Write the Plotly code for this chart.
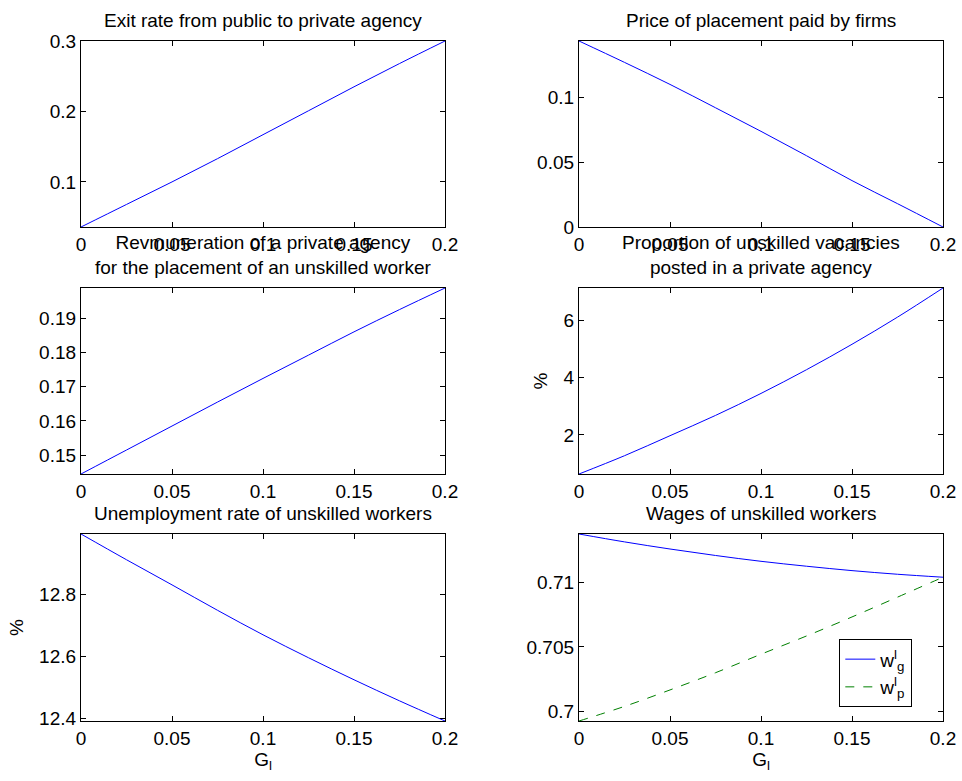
import plotly.graph_objects as go

# ---- data ----
g_l = [0, 0.025, 0.05, 0.075, 0.1, 0.125, 0.15, 0.175, 0.2]

exit_rate = [0.036, 0.068, 0.100, 0.133, 0.167, 0.201, 0.235, 0.268, 0.300]
price_placement = [0.1435, 0.127, 0.110, 0.092, 0.0738, 0.055, 0.0358, 0.018, 0.0]
remuneration = [0.1445, 0.1515, 0.1585, 0.1655, 0.1724, 0.1792, 0.1860, 0.1925, 0.1988]
prop_vacancies = [0.63, 1.27, 1.97, 2.68, 3.45, 4.28, 5.17, 6.12, 7.14]
unemployment = [12.994, 12.911, 12.830, 12.748, 12.669, 12.595, 12.524, 12.456, 12.391]
wage_g = [0.71373, 0.71312, 0.71257, 0.71207, 0.71162, 0.71124, 0.71090, 0.71062, 0.71039]
wage_p = [0.69928, 0.70041, 0.70168, 0.70301, 0.70444, 0.70585, 0.70732, 0.70885, 0.71039]

x_ticks = [0, 0.05, 0.1, 0.15, 0.2]
x_ticktext = ["0", "0.05", "0.1", "0.15", "0.2"]

titles = [
    "Exit rate from public to private agency",
    "Price of placement paid by firms",
    "Revmuneration of a private agency<br>for the placement of an unskilled worker",
    "Proportion of unskilled vacancies<br>posted in a private agency",
    "Unemployment rate of unskilled workers",
    "Wages of unskilled workers",
]
y_tickvals = [
    [0.1, 0.2, 0.3],
    [0, 0.05, 0.1],
    [0.15, 0.16, 0.17, 0.18, 0.19],
    [2, 4, 6],
    [12.4, 12.6, 12.8],
    [0.7, 0.705, 0.71],
]
y_ticktext = [
    ["0.1", "0.2", "0.3"],
    ["0", "0.05", "0.1"],
    ["0.15", "0.16", "0.17", "0.18", "0.19"],
    ["2", "4", "6"],
    ["12.4", "12.6", "12.8"],
    ["0.7", "0.705", "0.71"],
]
y_titles = ["", "", "", "%", "%", ""]
x_titles = ["", "", "", "", "G<sub>l</sub>", "G<sub>l</sub>"]

# ---- layout geometry (page body margin removed below) ----
W, H = 962, 781


def px(v):
    return v / W


def py(v):
    return 1 - v / H


col_x = [(px(81), px(445)), (px(579), px(943))]
row_y = [(py(227), py(41)), (py(474), py(288)), (py(721), py(534))]

FONT = "Liberation Sans, Arial, Helvetica, sans-serif"
FS = 19
BLUE = "rgb(0,0,255)"
GREEN = "rgb(0,128,0)"

fig = go.Figure()

series = [
    [(exit_rate, None)],
    [(price_placement, None)],
    [(remuneration, None)],
    [(prop_vacancies, None)],
    [(unemployment, None)],
    [(wage_g, "w<sup>l</sup><sub>g</sub>"), (wage_p, "w<sup>l</sup><sub>p</sub>")],
]

annotations = []
for i in range(6):
    r, c = divmod(i, 2)
    idx = "" if i == 0 else str(i + 1)
    xa, ya = "x" + idx, "y" + idx
    all_y = []
    for k, (vals, name) in enumerate(series[i]):
        all_y += vals
        fig.add_trace(go.Scatter(
            x=g_l, y=vals, mode="lines", xaxis=xa, yaxis=ya,
            name=name if name else "",
            showlegend=bool(name),
            line=dict(color=BLUE if k == 0 else GREEN, width=1,
                      dash="solid" if k == 0 else "dash", shape="spline"),
        ))
    common = dict(showline=True, linecolor="black", linewidth=1.3, mirror="ticks",
                  ticks="inside", ticklen=5, tickcolor="black", showgrid=False,
                  zeroline=False, automargin=False, ticklabeloverflow="allow",
                  tickfont=dict(family=FONT, size=FS, color="black"))
    fig.layout["xaxis" + idx] = dict(
        domain=col_x[c], anchor=ya, range=[0, 0.2], tickvals=x_ticks,
        ticktext=x_ticktext,
        title=dict(text=x_titles[i], font=dict(family=FONT, size=FS, color="black"),
                   standoff=2),
        **common)
    fig.layout["yaxis" + idx] = dict(
        domain=row_y[r], anchor=xa, range=[min(all_y), max(all_y)],
        tickvals=y_tickvals[i], ticktext=y_ticktext[i],
        title=dict(text=y_titles[i], font=dict(family=FONT, size=FS, color="black"),
                   standoff=10),
        **common)
    annotations.append(dict(
        text=titles[i], x=(col_x[c][0] + col_x[c][1]) / 2, y=row_y[r][1],
        xref="paper", yref="paper", xanchor="center", yanchor="bottom",
        yshift=8, showarrow=False,
        font=dict(family=FONT, size=FS, color="black"),
    ))

fig.update_layout(
    width=W, height=H, autosize=False,
    margin=dict(l=0, r=0, t=0, b=0, pad=0, autoexpand=False),
    paper_bgcolor="white", plot_bgcolor="white",
    annotations=annotations,
    font=dict(family=FONT, size=FS, color="black"),
    legend=dict(x=px(839), y=py(639), xanchor="left", yanchor="top",
                bordercolor="black", borderwidth=1.3, bgcolor="white",
                itemwidth=30,
                font=dict(family=FONT, size=FS, color="black"),
                tracegroupgap=0),
)

fig.write_html(
    "out.html",
    config={"displayModeBar": False},
    post_script="document.body.style.margin='0px';document.body.style.overflow='hidden';",
)
